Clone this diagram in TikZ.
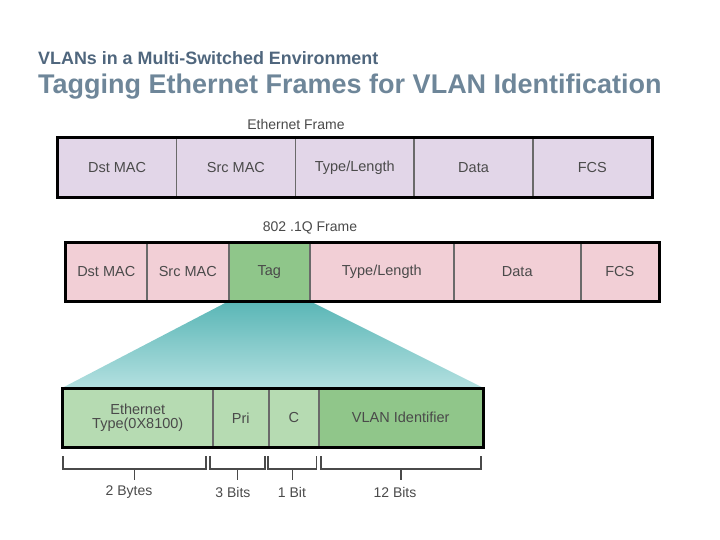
\documentclass[tikz,border=0pt]{standalone}
\usepackage{fontspec}
\setmainfont{Liberation Sans}
\usetikzlibrary{backgrounds}
\definecolor{titleA}{HTML}{4F667D}
\definecolor{titleB}{HTML}{6E8699}
\definecolor{txt}{HTML}{4A4A4A}
\definecolor{lav}{HTML}{E2D6E8}
\definecolor{pinkc}{HTML}{F2CFD6}
\definecolor{tagg}{HTML}{8FC68A}
\definecolor{lgreen}{HTML}{B6DBB2}
\definecolor{dgreen}{HTML}{90C68A}
\definecolor{divider}{HTML}{6A6A6A}
\definecolor{tealtop}{HTML}{5AB6B6}
\definecolor{tealbot}{HTML}{B3E0E0}
\tikzset{
  cell/.style={draw=divider, line width=1.5pt, anchor=north west, inner sep=0pt,
    text=txt, font=\fontsize{14.5}{15.5}\selectfont, align=center},
  outer/.style={draw=black, line width=3pt},
  lbl/.style={text=txt, font=\fontsize{14}{16}\selectfont, inner sep=0pt},
  brk/.style={draw=txt, line width=1.2pt}
}
\begin{document}
\begin{tikzpicture}[x=1pt,y=-1pt]
\useasboundingbox (0,0) rectangle (720,540);
% titles
\node[anchor=base west, inner sep=0pt, text=titleA, font=\fontsize{17.9}{19}\selectfont\bfseries] (t1) at (38,65) {VLANs in a Multi-Switched Environment};
\node[anchor=base west, inner sep=0pt, text=titleB, font=\fontsize{27}{28}\selectfont\bfseries] (t2) at (38,94) {Tagging Ethernet Frames for VLAN Identification};
% Ethernet frame
\node[lbl] (ef) at (296,124) {Ethernet Frame};
\node[cell, fill=lav, minimum width=118.8pt, minimum height=58pt] (e1) at (57,138) {Dst MAC};
\node[cell, fill=lav, minimum width=118.8pt, minimum height=58pt] (e2) at (175.8,138) {Src MAC};
\node[cell, fill=lav, minimum width=118.8pt, minimum height=58pt] (e3) at (294.6,138) {Type/Length};
\node[cell, fill=lav, minimum width=118.8pt, minimum height=58pt] (e4) at (413.4,138) {Data};
\node[cell, fill=lav, minimum width=118.8pt, minimum height=58pt] (e5) at (532.2,138) {FCS};
\draw[outer] (e1.north west) rectangle (e5.south east);
% 802.1Q frame
\node[lbl] (qf) at (310,228) {802 .1Q Frame};
\node[cell, fill=pinkc, minimum width=81pt, minimum height=58pt] (q1) at (65,242) {Dst MAC};
\node[cell, fill=pinkc, minimum width=82pt, minimum height=58pt] (q2) at (146,242) {Src MAC};
\node[cell, fill=tagg, minimum width=81pt, minimum height=58pt] (q3) at (228,242) {Tag};
\node[cell, fill=pinkc, minimum width=144pt, minimum height=58pt] (q4) at (309,242) {Type/Length};
\node[cell, fill=pinkc, minimum width=127pt, minimum height=58pt] (q5) at (453,242) {Data};
\node[cell, fill=pinkc, minimum width=78pt, minimum height=58pt] (q6) at (580,242) {FCS};
\draw[outer] (q1.north west) rectangle (q6.south east);
% tag breakdown
\node[cell, fill=lgreen, minimum width=150pt, minimum height=58pt] (v1) at (62,388) {Ethernet\\[-1pt]Type(0X8100)};
\node[cell, fill=lgreen, minimum width=56pt, minimum height=58pt] (v2) at (212,388) {Pri};
\node[cell, fill=lgreen, minimum width=50pt, minimum height=58pt] (v3) at (268,388) {C};
\node[cell, fill=dgreen, minimum width=164pt, minimum height=58pt] (v4) at (318,388) {VLAN Identifier};
\draw[outer] (v1.north west) rectangle (v4.south east);
\begin{pgfonlayer}{background}
\shade[top color=tealtop, bottom color=tealbot] (q3.south west) -- (q3.south east) -- (v4.north east) -- (v1.north west) -- cycle;
\end{pgfonlayer}
% brackets
\draw[brk] (63,456) -- (63,469) -- (206,469) -- (206,456) (134.5,469) -- (134.5,480);
\draw[brk] (210,456) -- (210,469) -- (265,469) -- (265,456) (237.5,469) -- (237.5,480);
\draw[brk] (268,456) -- (268,469) -- (316.5,469) -- (316.5,456) (292.25,469) -- (292.25,480);
\draw[brk] (321,456) -- (321,469) -- (481,469) -- (481,456) (401,469) -- (401,480);
\node[lbl] (b1) at (129,492) {2 Bytes};
\node[lbl] (b2) at (233,492) {3 Bits};
\node[lbl] (b3) at (292,492) {1 Bit};
\node[lbl] (b4) at (395,492) {12 Bits};
\end{tikzpicture}
\end{document}
